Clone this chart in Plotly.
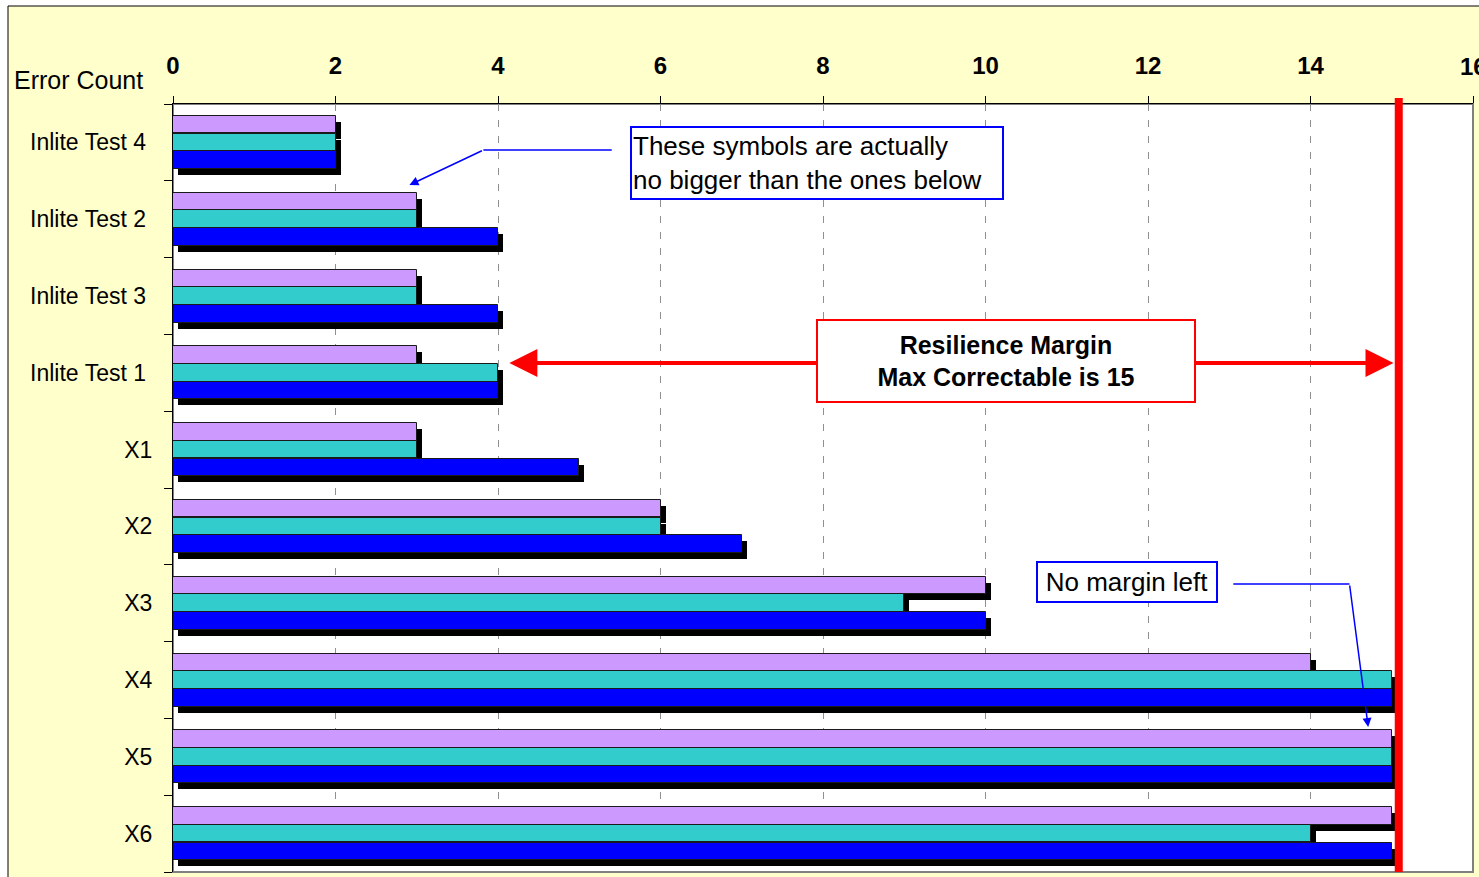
import plotly.graph_objects as go

# ---- data -------------------------------------------------------------
categories = ["Inlite Test 4", "Inlite Test 2", "Inlite Test 3", "Inlite Test 1",
              "X1", "X2", "X3", "X4", "X5", "X6"]
run_1 = [2, 3, 3, 3, 3, 6, 10, 14, 15, 15]   # lavender bars
run_2 = [2, 3, 3, 4, 3, 6, 9, 15, 15, 14]    # teal bars
run_3 = [2, 4, 4, 4, 5, 7, 10, 15, 15, 15]   # blue bars
x_ticks = [0, 2, 4, 6, 8, 10, 12, 14, 16]
MAX_CORRECTABLE = 15

# ---- geometry ---------------------------------------------------------
W, H = 1479, 877
ML, MR, MT, MB = 173, 6, 104, 5
XMAX = 16
px_x = (W - ML - MR) / XMAX            # pixels per x unit
px_y = (H - MT - MB) / len(categories)  # pixels per category band

BAR_W = 0.228
OFFSETS = [-0.231, 0.0, 0.231]
SH_DX = 5 / px_x    # drop shadow offset in data units
SH_DY = 6 / px_y

series = [
    ("Run 1", run_1, "#CC99FF"),
    ("Run 2", run_2, "#33CCCC"),
    ("Run 3", run_3, "#0000FF"),
]
pos = list(range(len(categories)))

fig = go.Figure()

# drop shadows first so the coloured bars sit on top of them
for (name, vals, _), off in zip(series, OFFSETS):
    fig.add_trace(go.Bar(
        x=vals, y=[p + off + SH_DY for p in pos], base=SH_DX,
        orientation="h", width=BAR_W,
        marker=dict(color="black", line=dict(width=0)),
        showlegend=False, hoverinfo="skip"))

for (name, vals, color), off in zip(series, OFFSETS):
    fig.add_trace(go.Bar(
        x=vals, y=[p + off for p in pos], name=name,
        orientation="h", width=BAR_W,
        marker=dict(color=color, line=dict(color="#1a1a1a", width=1)),
        showlegend=False))

font_main = "Liberation Sans, Arial, sans-serif"
tick_font = dict(family=font_main, size=24, color="black", weight="bold")

fig.update_layout(
    width=W, height=H,
    margin=dict(l=ML, r=MR, t=MT, b=MB, pad=0),
    paper_bgcolor="white",
    plot_bgcolor="rgba(0,0,0,0)",
    barmode="overlay",
    bargap=0,
    showlegend=False,
    xaxis=dict(
        side="top", range=[0, XMAX], tickvals=x_ticks,
        ticktext=[str(v) for v in x_ticks],
        tickfont=tick_font,
        ticks="outside", ticklen=7, tickcolor="black", tickwidth=1,
        ticklabelstandoff=12,
        showgrid=True, gridcolor="#909090", gridwidth=1, griddash="7px,9px",
        showline=True, linecolor="black", linewidth=1,
        zeroline=False,
    ),
    yaxis=dict(
        range=[len(categories) - 0.5, -0.5],
        tickvals=pos,
        ticktext=[c + "\u00a0" if c.startswith("Inlite") else c for c in categories],
        tickfont=dict(family=font_main, size=23, color="black"),
        ticks="", ticklabelstandoff=15,
        minor=dict(tickmode="array",
                   tickvals=[p - 0.5 for p in pos] + [len(pos) - 0.5],
                   ticks="outside", ticklen=8, tickcolor="black", showgrid=False),
        showgrid=False,
        showline=True, linecolor="black", linewidth=1,
        zeroline=False,
    ),
)

# last tick label sits on the figure edge; draw it explicitly
fig.add_annotation(text=str(x_ticks[-1]), xref="x", yref="paper",
                   x=x_ticks[-1], y=1, xanchor="center", yanchor="middle",
                   yshift=38, showarrow=False, font=tick_font)

# chart frame and plot area backgrounds
frame_x0 = (8 - ML) / (W - ML - MR)
frame_y1 = 1 + (MT - 6) / (H - MT - MB)
fig.add_shape(type="rect", xref="paper", yref="paper",
              x0=frame_x0, x1=1.2, y0=-0.2, y1=frame_y1,
              fillcolor="#FFFFCC", line=dict(color="black", width=1), layer="below")
fig.add_shape(type="rect", xref="paper", yref="paper",
              x0=0, x1=1, y0=0, y1=1,
              fillcolor="white", line=dict(color="#808080", width=2), layer="below")

# maximum-correctable limit line
fig.add_shape(type="rect", xref="x", yref="paper",
              xsizemode="pixel", xanchor=MAX_CORRECTABLE, x0=3, x1=11,
              y0=0, y1=1 + 6 / (H - MT - MB),
              fillcolor="#FF0000", line=dict(width=0), layer="above")

# axis caption
fig.add_annotation(text="Error Count", xref="paper", yref="paper",
                   x=0, y=1, xanchor="right", yanchor="middle",
                   xshift=-28, yshift=24, showarrow=False,
                   font=dict(family=font_main, size=25, color="black"))

# resilience margin double arrow
fig.add_annotation(x=4.14, y=2.872, ax=15.04, ay=2.872, xref="x", yref="y",
                   axref="x", ayref="y", text="", showarrow=True,
                   arrowside="end+start", arrowhead=2, arrowsize=1.4,
                   arrowwidth=4, arrowcolor="#FF0000")
fig.add_annotation(x=10.25, y=2.85, xref="x", yref="y", showarrow=False,
                   text="<b>Resilience Margin</b><br><b>Max Correctable is 15</b>",
                   font=dict(family=font_main, size=25, color="black"),
                   bgcolor="white", bordercolor="#FF0000", borderwidth=2,
                   width=374, height=78, align="center")

# callout: symbols
fig.add_shape(type="line", xref="x", yref="y", x0=5.40, x1=3.82, y0=0.099, y1=0.099,
              line=dict(color="#0000FF", width=1.5))
fig.add_annotation(x=2.91, y=0.555, ax=3.82, ay=0.099, xref="x", yref="y",
                   axref="x", ayref="y", text="", showarrow=True,
                   arrowhead=2, arrowsize=1.2, arrowwidth=1.5, arrowcolor="#0000FF")
fig.add_annotation(x=7.92, y=0.27, xref="x", yref="y", showarrow=False,
                   text="These symbols are actually<br>no bigger than the ones below",
                   font=dict(family=font_main, size=26, color="black"),
                   bgcolor="white", bordercolor="#0000FF", borderwidth=2,
                   width=368, height=68, align="left")

# callout: no margin
fig.add_shape(type="line", xref="x", yref="y", x0=13.05, x1=14.48, y0=5.75, y1=5.75,
              line=dict(color="#0000FF", width=1.5))
fig.add_annotation(x=14.71, y=7.612, ax=14.48, ay=5.75, xref="x", yref="y",
                   axref="x", ayref="y", text="", showarrow=True,
                   arrowhead=2, arrowsize=1.2, arrowwidth=1.5, arrowcolor="#0000FF")
fig.add_annotation(x=11.74, y=5.72, xref="x", yref="y", showarrow=False,
                   text="No margin left",
                   font=dict(family=font_main, size=26, color="black"),
                   bgcolor="white", bordercolor="#0000FF", borderwidth=2,
                   width=176, height=36, align="center")

fig.write_html("out.html")
